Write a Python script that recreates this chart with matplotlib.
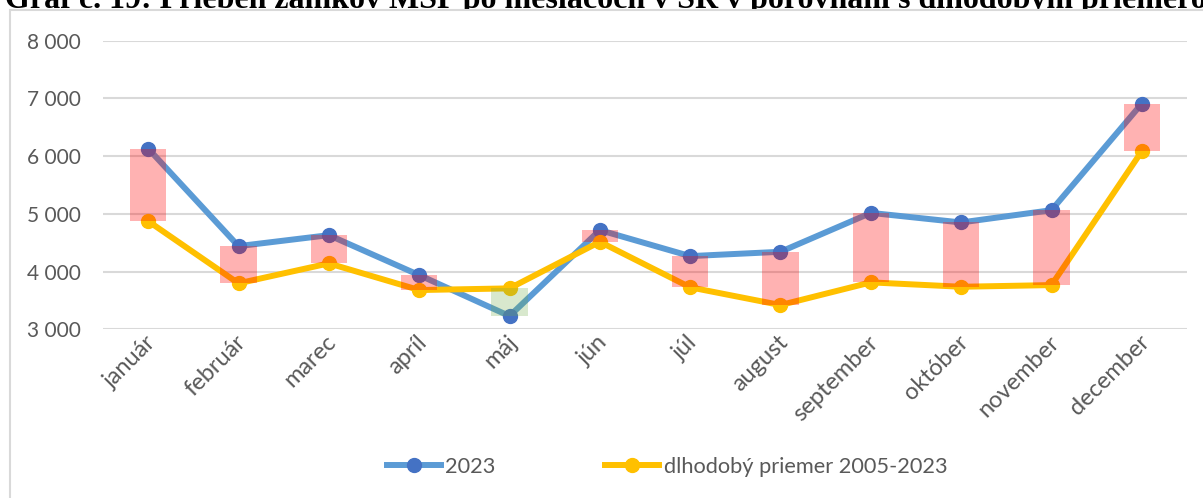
import matplotlib
matplotlib.use('Agg')
import matplotlib.pyplot as plt
from matplotlib.patches import Rectangle
from matplotlib.ticker import FuncFormatter
from matplotlib.transforms import ScaledTranslation
import numpy as np

months = ['január', 'február', 'marec', 'apríl', 'máj', 'jún', 'júl',
          'august', 'september', 'október', 'november', 'december']
y2023 = [6131, 4441, 4631, 3939, 3230, 4718, 4268, 4343, 5017, 4851, 5064, 6910]
avg = [4874, 3796, 4142, 3680, 3709, 4516, 3727, 3420, 3813, 3737, 3766, 6085]
yticks = [3000, 4000, 5000, 6000, 7000, 8000]

W, H = 1203, 498
fig = plt.figure(figsize=(W / 100, H / 100), dpi=100)
plt.rcParams['font.family'] = ['Lato', 'DejaVu Sans']

# title, partly hidden behind the chart box
fig.text(5 / W, 1 - 8 / H,
         'Graf č. 19: Priebeh zámkov MSP po mesiacoch v SR v porovnaní s dlhodobým priemerom',
         family='Liberation Serif', fontweight='bold', fontsize=23,
         ha='left', va='baseline', zorder=-2)
fig.patches.append(Rectangle((10 / W, -0.2), 1.2, 1 - 10 / H + 0.2,
                             transform=fig.transFigure, facecolor='white',
                             edgecolor='#D9D9D9', linewidth=1.5, zorder=-1))

ax = fig.add_axes([103 / W, 168.7 / H, (1187 - 103) / W, (457.3 - 168.7) / H])
ax.set_facecolor('none')
x = np.arange(len(months))

ax.plot(x, y2023, color='#5B9BD5', lw=4.3, marker='o', ms=10,
        mfc='#4472C4', mec='#4472C4', zorder=3, label='2023')
ax.plot(x, avg, color='#FFC000', lw=4.3, marker='o', ms=10,
        mfc='#FFC000', mec='#FFC000', zorder=4, label='dlhodobý priemer 2005-2023')

lo = np.minimum(y2023, avg)
hi = np.maximum(y2023, avg)
cols = ['#FF0000' if a > b else '#70AD47' for a, b in zip(y2023, avg)]
alphas = [0.3 if a > b else 0.27 for a, b in zip(y2023, avg)]
for i in range(len(x)):
    ax.bar(x[i], hi[i] - lo[i], bottom=lo[i], width=0.4, color=cols[i],
           alpha=alphas[i], zorder=5, linewidth=0)

ax.set_xlim(-0.5, 11.5)
ax.set_ylim(3000, 8000)
ax.set_yticks(yticks)
ax.yaxis.set_major_formatter(FuncFormatter(lambda v, p: f'{int(v):,}'.replace(',', ' ')))
ax.grid(axis='y', color='#D9D9D9', lw=1.5, zorder=0)
ax.set_axisbelow(True)
for s in ax.spines.values():
    s.set_visible(False)
ax.tick_params(axis='both', length=0, colors='#595959')
ax.tick_params(axis='y', pad=16, labelsize=15)
ax.set_xticks(x)
ax.set_xticklabels(months, rotation=45, ha='right', va='center',
                   rotation_mode='anchor', fontsize=17)
ax.tick_params(axis='x', pad=7)
for lab in ax.get_xticklabels():
    lab.set_transform(lab.get_transform() + ScaledTranslation(4 / 100, 0, fig.dpi_scale_trans))

ax.legend(loc='center', bbox_to_anchor=(667 / W, 31 / H),
          bbox_transform=fig.transFigure, ncol=2, frameon=False,
          fontsize=15.7, labelcolor='#595959', handlelength=2.5,
          handletextpad=0.2, columnspacing=5.0)

fig.savefig('out.png', dpi=100, facecolor='white')
